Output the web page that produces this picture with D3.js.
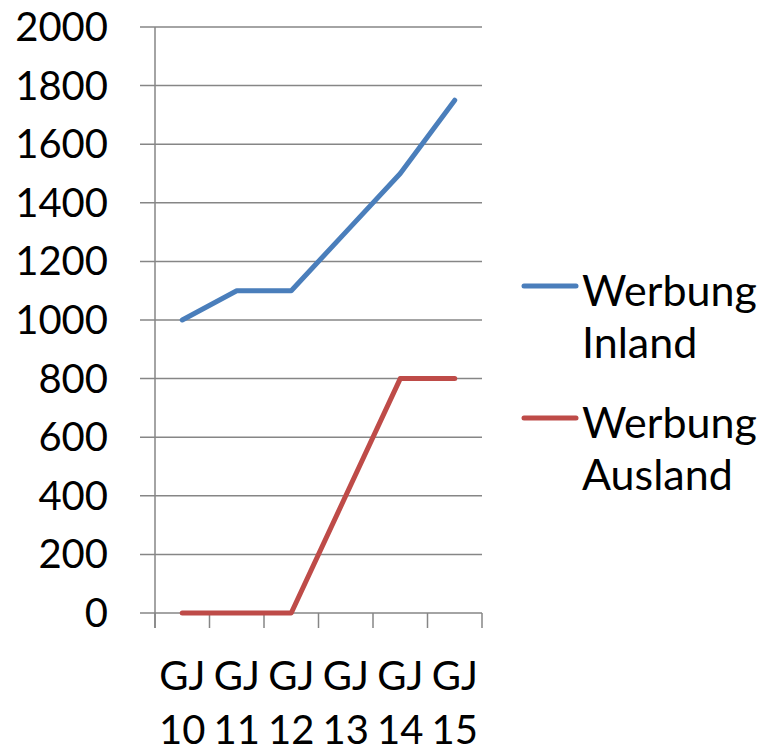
<!DOCTYPE html>
<html>
<head>
<meta charset="utf-8">
<script src="https://cdn.jsdelivr.net/npm/d3@7"></script>
<style>
  body { margin: 0; background: #fff; }
  text { font-family: Lato, "Open Sans", sans-serif; fill: #000; }
</style>
</head>
<body>
<div id="chart"></div>
<script>
// data
const categories = ["GJ 10", "GJ 11", "GJ 12", "GJ 13", "GJ 14", "GJ 15"];
const inland = [1000, 1100, 1100, 1300, 1500, 1750];
const ausland = [0, 0, 0, 400, 800, 800];
const yTicks = [0, 200, 400, 600, 800, 1000, 1200, 1400, 1600, 1800, 2000];
const seriesNames = [["Werbung", "Inland"], ["Werbung", "Ausland"]];
const colors = ["#4a7ebb", "#be4b48"];

var width = 767, height = 753;
var svg = d3.select("#chart").append("svg")
  .attr("width", width)
  .attr("height", height);

var x = d3.scaleBand().domain(categories).range([155, 482]);
var y = d3.scaleLinear().domain([0, 2000]).range([613, 27]);

// horizontal gridlines (with little outward ticks on the left)
svg.append("g")
  .selectAll("line")
  .data(yTicks)
  .enter().append("line")
  .attr("x1", 140).attr("x2", 482)
  .attr("y1", d => y(d)).attr("y2", d => y(d))
  .attr("stroke", "#868686")
  .attr("stroke-width", 1.5);

// y axis line
svg.append("line")
  .attr("x1", 155).attr("x2", 155)
  .attr("y1", y(2000)).attr("y2", 628)
  .attr("stroke", "#868686")
  .attr("stroke-width", 1.5);

// x tick marks at band edges
var edges = categories.map(c => x(c)).concat([x.range()[1]]);
svg.append("g")
  .selectAll("line")
  .data(edges)
  .enter().append("line")
  .attr("x1", d => d).attr("x2", d => d)
  .attr("y1", y(0)).attr("y2", 628)
  .attr("stroke", "#868686")
  .attr("stroke-width", 1.5);

// y labels
svg.append("g")
  .selectAll("text")
  .data(yTicks)
  .enter().append("text")
  .attr("x", 108)
  .attr("y", d => y(d) + 14)
  .attr("text-anchor", "end")
  .style("font-size", "40px")
  .text(d => d);

// x labels, two lines each
var xl = svg.append("g")
  .selectAll("text")
  .data(categories)
  .enter().append("text")
  .attr("text-anchor", "middle")
  .style("font-size", "40px");
xl.append("tspan")
  .attr("x", d => x(d) + x.bandwidth() / 2)
  .attr("y", 690)
  .text(d => d.split(" ")[0]);
xl.append("tspan")
  .attr("x", d => x(d) + x.bandwidth() / 2)
  .attr("y", 744)
  .text(d => d.split(" ")[1]);

// lines
var line = d3.line()
  .x((d, i) => x(categories[i]) + x.bandwidth() / 2)
  .y(d => y(d));

[inland, ausland].forEach((s, i) => {
  svg.append("path")
    .datum(s)
    .attr("d", line)
    .attr("fill", "none")
    .attr("stroke", colors[i])
    .attr("stroke-width", 5)
    .attr("stroke-linecap", "round")
    .attr("stroke-linejoin", "round");
});

// legend
var legendY = [286, 418];
seriesNames.forEach((n, i) => {
  svg.append("line")
    .attr("x1", 524).attr("x2", 576)
    .attr("y1", legendY[i]).attr("y2", legendY[i])
    .attr("stroke", colors[i])
    .attr("stroke-width", 5)
    .attr("stroke-linecap", "round");
  var t = svg.append("text").style("font-size", "43px");
  t.append("tspan").attr("x", 582).attr("y", legendY[i] + 20).text(n[0]);
  t.append("tspan").attr("x", 582).attr("y", legendY[i] + 72).text(n[1]);
});
</script>
</body>
</html>
